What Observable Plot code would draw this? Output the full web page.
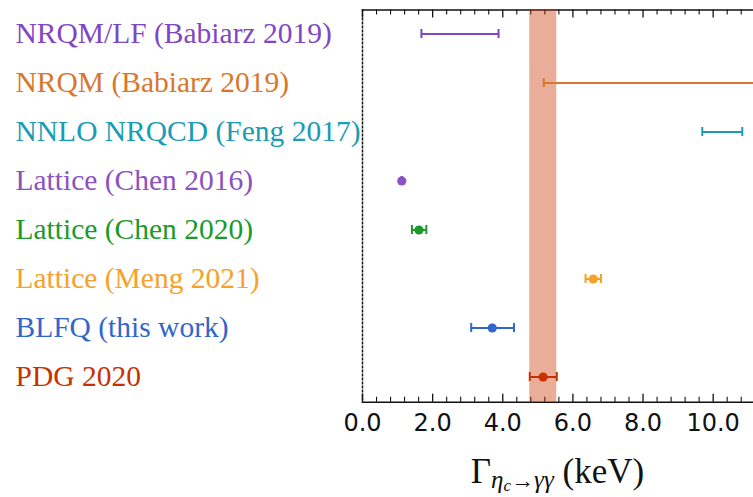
<!DOCTYPE html>
<html>
<head>
<meta charset="utf-8">
<script src="https://cdn.jsdelivr.net/npm/d3@7"></script>
<script src="https://cdn.jsdelivr.net/npm/@observablehq/plot@0.6"></script>
<style>
  html, body { margin: 0; padding: 0; background: #fff; }
  #chart svg { display: block; }
</style>
</head>
<body>
<div id="chart"></div>
<script>
// Two-photon decay width of the eta_c: predictions and measurement (keV)
const labels = [
  "NRQM/LF (Babiarz 2019)",
  "NRQM (Babiarz 2019)",
  "NNLO NRQCD (Feng 2017)",
  "Lattice (Chen 2016)",
  "Lattice (Chen 2020)",
  "Lattice (Meng 2021)",
  "BLFQ (this work)",
  "PDG 2020"
];
const central = [null, null, null, 1.12, 1.61, 6.58, 3.70, 5.15];
const lower   = [1.68, 5.17, 9.69, 1.11, 1.41, 6.36, 3.10, 4.77];
const upper   = [3.88, 12.0, 10.83, 1.13, 1.82, 6.80, 4.32, 5.54];
const colors  = ["#7f47c4", "#d8782e", "#1a9cb4", "#8b52c0", "#1b9a2c", "#f7a12a", "#3366cc", "#c83200"];
const xTickValues = [0, 2, 4, 6, 8, 10];

const rows = labels.map((name, i) => ({
  name, value: central[i], lo: lower[i], hi: upper[i], color: colors[i]
}));
const measured = rows.filter(d => d.name === "PDG 2020");
const points = rows.filter(d => d.value != null);
const caps = rows.flatMap(d => [{...d, at: d.lo}, {...d, at: d.hi}]);

const width = 753, height = 497;
const marginTop = 9.5, marginBottom = 95.3, marginLeft = 362, marginRight = 0;
const frameH = height - marginTop - marginBottom;
const xMax = 11.15;
const minorTicks = d3.range(0, xMax, 0.4).filter(v => !xTickValues.some(t => Math.abs(t - v) < 1e-6));

const plot = Plot.plot({
  width, height, marginTop, marginBottom, marginLeft, marginRight,
  x: {domain: [0, xMax], axis: null},
  y: {type: "band", domain: labels, paddingInner: 0.807, paddingOuter: 0.381, axis: null},
  color: {type: "identity"},
  marks: [
    // tick marks pointing inward on top and bottom edges
    Plot.ruleX(xTickValues, {stroke: "#111", strokeWidth: 1.3, insetTop: frameH - 8}),
    Plot.ruleX(xTickValues, {stroke: "#111", strokeWidth: 1.3, insetBottom: frameH - 8}),
    Plot.ruleX(minorTicks, {stroke: "#111", strokeWidth: 1.1, insetTop: frameH - 5}),
    Plot.ruleX(minorTicks, {stroke: "#111", strokeWidth: 1.1, insetBottom: frameH - 5}),
    Plot.frame({anchor: "top", stroke: "#111", strokeWidth: 1.5}),
    Plot.frame({anchor: "bottom", stroke: "#111", strokeWidth: 1.5}),
    Plot.ruleX([0], {stroke: "#111", strokeWidth: 1.5, strokeDasharray: "3,1"}),
    // experimental band
    Plot.rect(measured, {x1: "lo", x2: "hi", fill: "color", fillOpacity: 0.4}),
    // error bars
    Plot.ruleY(rows, {y: "name", x1: "lo", x2: "hi", stroke: "color", strokeWidth: 2, clip: true}),
    Plot.tickX(caps, {x: "at", y: "name", stroke: "color", strokeWidth: 2, clip: true}),
    Plot.dot(points, {x: "value", y: "name", r: 4.6, fill: "color", stroke: "none"}),
    // row labels
    Plot.text(rows, {
      y: "name", text: "name", fill: "color", frameAnchor: "left", dx: -347,
      textAnchor: "start", lineAnchor: "middle",
      fontFamily: "Liberation Serif", fontSize: 29.5
    }),
    // x tick labels
    Plot.text(xTickValues, {
      x: d => d, text: d => d.toFixed(1), frameAnchor: "bottom", lineAnchor: "top",
      dy: 11.5, fill: "#111", fontFamily: "DejaVu Sans", fontSize: 24
    })
  ]
});

// axis title with subscripts
const sx = plot.scale("x");
const title = d3.select(plot).append("text")
  .attr("x", (sx.apply(0) + width) / 2)
  .attr("y", 483.3)
  .attr("text-anchor", "middle")
  .attr("fill", "#111")
  .attr("font-family", "Liberation Serif")
  .attr("font-size", 35);
title.append("tspan").text("Γ");
title.append("tspan").attr("font-size", 25).attr("font-style", "italic").attr("dy", 5).text("η");
title.append("tspan").attr("font-size", 17).attr("font-style", "italic").attr("dy", 2.5).text("c");
title.append("tspan").attr("font-size", 23).attr("dy", -2.5).text("→");
title.append("tspan").attr("font-size", 25).attr("font-style", "italic").text("γγ");
title.append("tspan").attr("font-size", 35).attr("dy", -5).text(" (keV)");

document.getElementById("chart").appendChild(plot);
</script>
</body>
</html>
